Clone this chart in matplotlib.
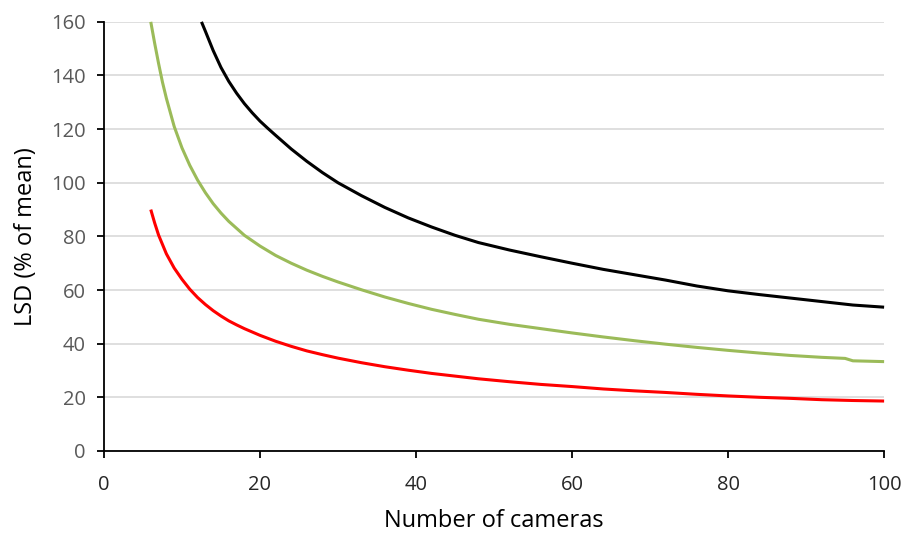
import matplotlib
matplotlib.use("Agg")
import matplotlib.pyplot as plt

plt.rcParams['font.family'] = ['Open Sans', 'DejaVu Sans']

black_x = [12.5, 13, 14, 15, 16, 17, 18, 19, 20, 21, 22, 24, 26, 28, 30, 33, 36, 39, 42, 45, 48, 52, 56, 60, 64, 68, 72, 76, 80, 84, 88, 92, 96, 100]
black_y = [160, 156.5, 149.3, 143, 137.8, 133.4, 129.5, 126.1, 123, 120.3, 117.7, 112.6, 108, 103.8, 100, 95.2, 90.8, 86.9, 83.5, 80.4, 77.7, 74.9, 72.4, 70, 67.7, 65.7, 63.7, 61.5, 59.7, 58.3, 57, 55.7, 54.4, 53.6]

green_x = [6, 6.5, 7, 7.5, 8, 9, 10, 11, 12, 13, 14, 15, 16, 18, 20, 22, 24, 26, 28, 30, 33, 36, 39, 42, 45, 48, 52, 56, 60, 64, 68, 72, 76, 80, 84, 88, 92, 95, 96, 100]
green_y = [160, 152, 144.5, 137.5, 131.5, 121, 113, 106.5, 101, 96.3, 92.2, 88.7, 85.6, 80.4, 76.4, 72.9, 70, 67.4, 65.1, 63, 60.1, 57.4, 55, 52.8, 50.9, 49.1, 47.2, 45.6, 44, 42.5, 41.1, 39.8, 38.6, 37.5, 36.5, 35.6, 34.9, 34.5, 33.6, 33.3]

red_x = [6, 6.5, 7, 8, 9, 10, 11, 12, 13, 14, 15, 16, 17, 18, 20, 22, 24, 26, 28, 30, 33, 36, 39, 42, 45, 48, 52, 56, 60, 64, 68, 72, 76, 80, 84, 88, 92, 96, 100]
red_y = [90, 85, 80.5, 73.5, 68.2, 64, 60.3, 57.2, 54.6, 52.3, 50.3, 48.5, 47, 45.6, 43.1, 40.9, 39, 37.3, 35.9, 34.6, 32.9, 31.4, 30.1, 28.9, 27.9, 26.9, 25.8, 24.8, 24, 23.1, 22.4, 21.8, 21.1, 20.5, 20, 19.6, 19.1, 18.8, 18.6]

x_ticks = [0, 20, 40, 60, 80, 100]
y_ticks = [0, 20, 40, 60, 80, 100, 120, 140, 160]

fig = plt.figure(figsize=(9.04, 5.33), dpi=100)
ax = fig.add_axes([0.115, 0.154, 0.863, 0.805])

for xs, ys, c in [(black_x, black_y, 'black'), (green_x, green_y, '#9BBB59'), (red_x, red_y, '#FF0000')]:
    ax.plot(xs, ys, color=c, lw=2.2, solid_joinstyle='round', solid_capstyle='butt', clip_on=False)

ax.set_xlim(0, 100)
ax.set_ylim(0, 160)
ax.set_xticks(x_ticks)
ax.set_yticks(y_ticks)
ax.yaxis.grid(True, color='#D9D9D9', lw=1.2)
ax.set_axisbelow(True)
for s in ['top', 'right']:
    ax.spines[s].set_visible(False)
for s in ['left', 'bottom']:
    ax.spines[s].set_linewidth(1.3)
    ax.spines[s].set_color('black')
ax.tick_params(axis='both', direction='out', length=5, width=1.3, labelsize=14.5)
ax.tick_params(axis='y', colors='black', labelcolor='#595959', pad=8)
ax.tick_params(axis='x', colors='black', labelcolor='#262626', pad=12.5)

ax.set_xlabel('Number of cameras', fontsize=17, labelpad=10)
ax.set_ylabel('LSD (% of mean)', fontsize=17)
ax.yaxis.set_label_coords(-0.085, 0.5)

fig.savefig('out.png', dpi=100)
